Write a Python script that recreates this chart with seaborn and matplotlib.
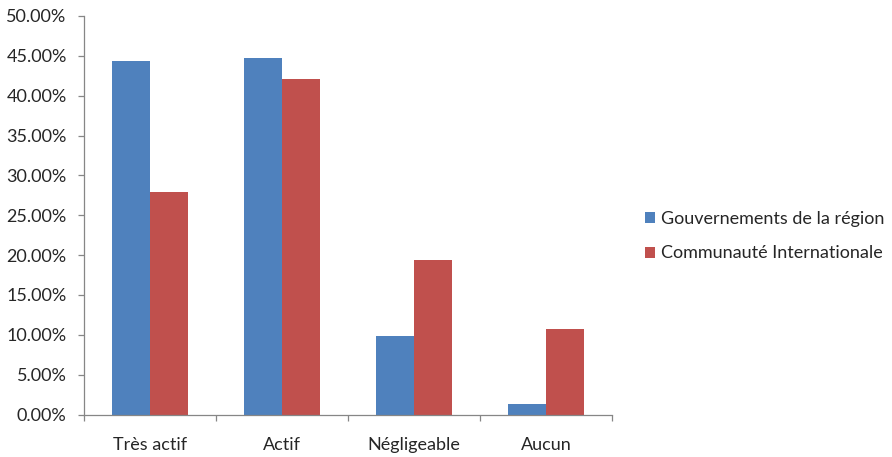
import matplotlib
matplotlib.use("Agg")
import matplotlib.pyplot as plt
from matplotlib.patches import Patch
from matplotlib.ticker import FixedLocator, PercentFormatter
import seaborn as sns
import pandas as pd

categories = ["Très actif", "Actif", "Négligeable", "Aucun"]
series = ["Gouvernements de la région", "Communauté Internationale"]
gouvernements = [44.4, 44.7, 9.8, 1.3]
communaute = [27.9, 42.1, 19.4, 10.7]
colors = ["#4F81BD", "#C0504D"]

df = pd.DataFrame({
    "categorie": categories * 2,
    "serie": [series[0]] * 4 + [series[1]] * 4,
    "valeur": gouvernements + communaute,
})

sns.set_theme(style="white")
plt.rcParams["font.family"] = ["Lato", "DejaVu Sans"]
text_color = "#262626"
axis_color = "#868686"
fs = 13

fig = plt.figure(figsize=(8.92, 4.57), dpi=100)
ax = fig.add_axes([84 / 892, 1 - 414.5 / 457, (612 - 84) / 892, (414.5 - 16) / 457])

sns.barplot(data=df, x="categorie", y="valeur", hue="serie", order=categories,
            hue_order=series, palette=colors, width=0.571, saturation=1,
            edgecolor="none", linewidth=0, ax=ax, legend=False)

ax.set_xlim(-0.5, 3.5)
ax.set_ylim(0, 50)
ax.set_xlabel("")
ax.set_ylabel("")

ax.yaxis.set_major_locator(FixedLocator([i * 5 for i in range(11)]))
ax.yaxis.set_major_formatter(PercentFormatter(decimals=2))

ax.xaxis.set_major_locator(FixedLocator([-0.5, 0.5, 1.5, 2.5, 3.5]))
ax.xaxis.set_major_formatter(plt.NullFormatter())
ax.xaxis.set_minor_locator(FixedLocator([0, 1, 2, 3]))
ax.set_xticklabels(categories, minor=True)

ax.tick_params(axis="y", which="major", direction="out", length=4, width=0.9,
               color=axis_color, labelsize=fs, labelcolor=text_color, pad=8.5, left=True)
ax.tick_params(axis="x", which="major", direction="out", length=4, width=0.9,
               color=axis_color, bottom=True)
ax.tick_params(axis="x", which="minor", length=0, labelsize=fs,
               labelcolor=text_color, pad=16)

for side in ["top", "right"]:
    ax.spines[side].set_visible(False)
for side in ["left", "bottom"]:
    ax.spines[side].set_color(axis_color)
    ax.spines[side].set_linewidth(0.9)

handles = [Patch(facecolor=c, edgecolor="none") for c in colors]
fig.legend(handles, series, loc="center left", bbox_to_anchor=(645 / 892, 1 - 236 / 457),
           frameon=False, fontsize=fs, handlelength=0.55, handleheight=0.55,
           handletextpad=0.35, labelspacing=1.05, borderaxespad=0, borderpad=0,
           labelcolor=text_color)

fig.savefig("out.png", dpi=100, facecolor="white")
